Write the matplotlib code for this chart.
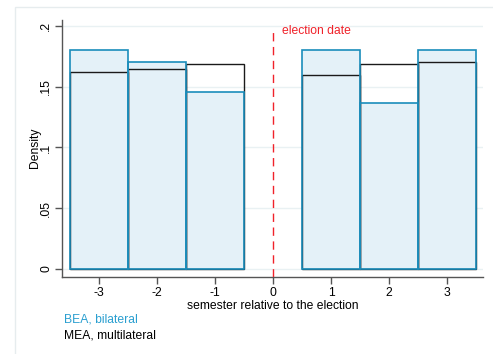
import matplotlib.pyplot as plt
from matplotlib.patches import Rectangle

plt.rcParams['font.family'] = ['Liberation Sans', 'DejaVu Sans']
plt.rcParams['axes.unicode_minus'] = False

# semesters relative to the election and histogram densities
semesters = [-3, -2, -1, 1, 2, 3]
bea_density = [0.1805, 0.170, 0.146, 0.1805, 0.1366, 0.1805]
mea_density = [0.1624, 0.1646, 0.1685, 0.1594, 0.1687, 0.1704]
y_ticks = [0, 0.05, 0.1, 0.15, 0.2]
y_labels = ['0', '.05', '.1', '.15', '.2']
x_ticks = [-3, -2, -1, 0, 1, 2, 3]

blue_edge = '#1a8dbb'
blue_fill = '#e4f1f8'
red = '#f0222a'
fs = 8.7

fig = plt.figure(figsize=(4.93, 3.54), dpi=100)
# outer graph frame (Stata style)
fig.patches.append(Rectangle((15 / 493, -0.1), 1.2, 1 - 7 / 354 + 0.1,
                             transform=fig.transFigure, fill=False,
                             edgecolor='#e6ecee', linewidth=1))
ax = fig.add_axes([62 / 493, 77 / 354, 421 / 493, 257.5 / 354])

# BEA: light blue fill
ax.bar(semesters, bea_density, width=1, color=blue_fill,
       edgecolor='none', zorder=2)
# MEA: black outline, no fill
ax.bar(semesters, mea_density, width=1, fill=False, edgecolor='#1a1a1a',
       linewidth=1, zorder=3)
# BEA outline on top
ax.bar(semesters, bea_density, width=1, fill=False, edgecolor=blue_edge,
       linewidth=1.2, zorder=4)

ax.axvline(0, ymin=0, ymax=0.965, color=red, linestyle=(0, (6, 4)),
           linewidth=1, zorder=5)
ax.text(0.15, 0.196, 'election date', color=red, fontsize=fs,
        va='center', ha='left')

ax.set_xlim(-3.64, 3.62)
ax.set_ylim(-0.0066, 0.2053)
ax.set_yticks(y_ticks)
ax.set_yticklabels(y_labels, rotation=90, va='center')
ax.set_xticks(x_ticks)
ax.grid(axis='y', color='#e9f1f3', linewidth=1, zorder=0)
ax.set_axisbelow(True)
for s in ['top', 'right']:
    ax.spines[s].set_visible(False)
for s in ['left', 'bottom']:
    ax.spines[s].set_color('#555555')
    ax.spines[s].set_linewidth(1)
ax.tick_params(axis='both', colors='#555555', labelcolor='black',
               labelsize=fs, length=5, width=1, pad=2)
ax.set_ylabel('Density', fontsize=fs, va='center')
ax.yaxis.set_label_coords(-0.064, 0.5)
ax.set_xlabel('semester relative to the election', fontsize=fs, labelpad=1)

fig.text(64 / 493, 1 - 320 / 354, 'BEA, bilateral', color='#2a9fd0',
         fontsize=fs, va='center')
fig.text(64 / 493, 1 - 336 / 354, 'MEA, multilateral', color='black',
         fontsize=fs, va='center')

fig.savefig('out.png', dpi=100)
